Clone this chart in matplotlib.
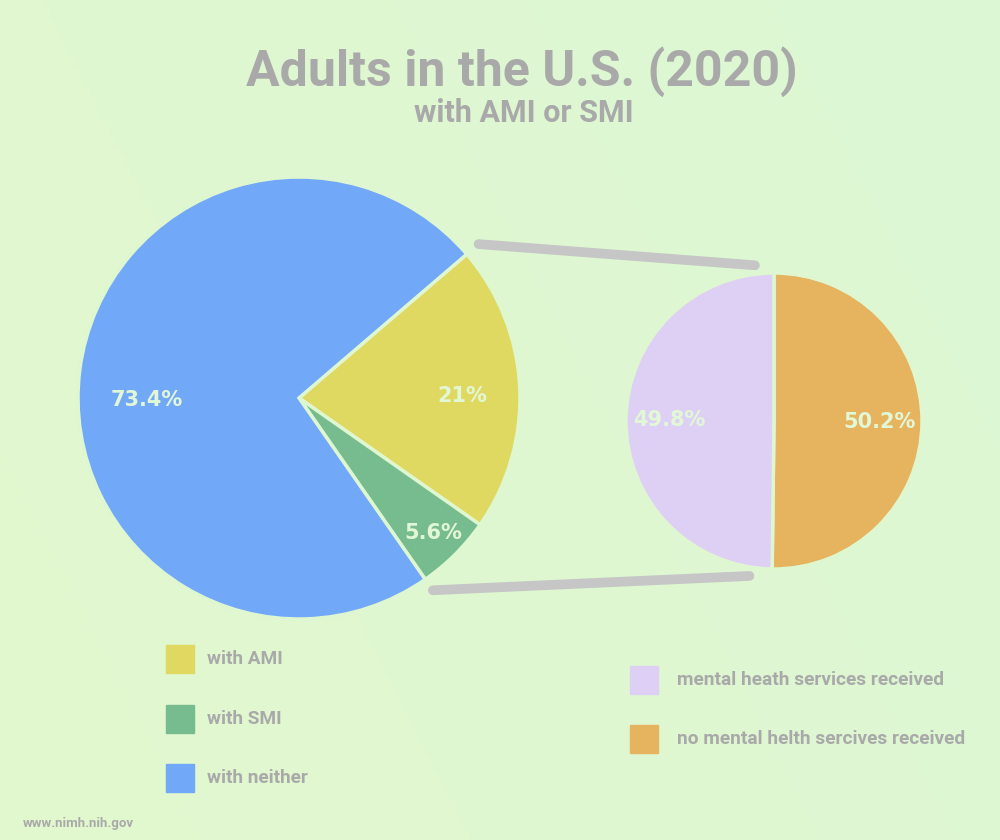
import numpy as np
import matplotlib
matplotlib.use("Agg")
import matplotlib.pyplot as plt
from matplotlib.patches import Rectangle

# Data
main_labels = ["with AMI", "with SMI", "with neither"]
main_values = [21, 5.6, 73.4]
main_colors = ["#dfd962", "#77bc8e", "#71a8f8"]

sub_labels = ["no mental helth sercives received", "mental heath services received"]
sub_values = [50.2, 49.8]
sub_colors = ["#e6b35e", "#ddd0f4"]

bg = "#dff7d0"
grey = "#a9a9a9"
label_col = "#e2f7d6"

W, H = 1000, 840
fig = plt.figure(figsize=(10, 8.4), dpi=100)
fig.patch.set_facecolor(bg)

# soft background wash
bgax = fig.add_axes([0, 0, 1, 1])
gx = np.linspace(0, 1, 200)
gy = np.linspace(0, 1, 200)
GX, GY = np.meshgrid(gx, gy)
c1 = np.array([0.886, 0.969, 0.808])
c2 = np.array([0.863, 0.969, 0.835])
t = (GX * 0.7 + GY * 0.3)[..., None]
bgax.imshow(c1 * (1 - t) + c2 * t, extent=[0, 1, 0, 1], aspect="auto", origin="lower")
bgax.axis("off")

ax = fig.add_axes([0, 0, 1, 1])
ax.set_facecolor("none")

# main pie (pixel coords, y up)
c_main = (299, H - 398)
r_main = 221
start_main = 40.6
wedges, _ = ax.pie(main_values, colors=main_colors, startangle=start_main,
                   counterclock=False, radius=r_main, center=c_main,
                   wedgeprops=dict(edgecolor=bg, linewidth=2.5))

label_dist = [0.74, 0.86, 0.69]
label_shift = [-2, 0, 8]
for w, v, d, s in zip(wedges, main_values, label_dist, label_shift):
    ang = np.deg2rad((w.theta1 + w.theta2) / 2 + s)
    txt = f"{v:g}%"
    ax.text(c_main[0] + d * r_main * np.cos(ang), c_main[1] + d * r_main * np.sin(ang),
            txt, ha="center", va="center", color=label_col, fontsize=15,
            fontweight="bold", family="DejaVu Sans")

# sub pie
c_sub = (774, H - 421)
r_sub = 148
sw, _ = ax.pie(sub_values, colors=sub_colors, startangle=90, counterclock=False,
               radius=r_sub, center=c_sub,
               wedgeprops=dict(edgecolor=bg, linewidth=2.5))
for w, v in zip(sw, sub_values):
    ang = np.deg2rad((w.theta1 + w.theta2) / 2)
    ax.text(c_sub[0] + 0.71 * r_sub * np.cos(ang), c_sub[1] + 0.71 * r_sub * np.sin(ang),
            f"{v:g}%", ha="center", va="center", color=label_col, fontsize=15,
            fontweight="bold", family="DejaVu Sans")

# connector lines
top_a = np.deg2rad(wedges[0].theta2)
bot_a = np.deg2rad(wedges[1].theta1)
for a1, a2, f1 in [(top_a, np.deg2rad(97), 1.07), (bot_a, np.deg2rad(261), 1.06)]:
    x1 = c_main[0] + f1 * r_main * np.cos(a1)
    y1 = c_main[1] + f1 * r_main * np.sin(a1)
    x2 = c_sub[0] + 1.06 * r_sub * np.cos(a2)
    y2 = c_sub[1] + 1.06 * r_sub * np.sin(a2)
    ax.plot([x1, x2], [y1, y2], color="#c6c6c6", lw=7, solid_capstyle="round", zorder=0)

ax.set_xlim(0, W)
ax.set_ylim(0, H)
ax.set_aspect("auto")
ax.axis("off")

# titles
fig.text(0.522, 1 - 72 / H, "Adults in the U.S. (2020)", ha="center", va="center",
         fontsize=36, fontweight="bold", color=grey, family="Roboto")
fig.text(0.524, 1 - 113 / H, "with AMI or SMI", ha="center", va="center",
         fontsize=22, fontweight="bold", color=grey, family="Roboto")

# legends
leg_left_y = [659, 719, 778]
for lab, col, yy in zip(main_labels, main_colors, leg_left_y):
    ax.add_patch(Rectangle((166, H - yy - 14), 28, 28, color=col))
    ax.text(207, H - yy, lab, ha="left", va="center", fontsize=13.7,
            fontweight="bold", color=grey, family="Roboto")

leg_right_y = [680, 739]
for lab, col, yy in zip(sub_labels[::-1], sub_colors[::-1], leg_right_y):
    ax.add_patch(Rectangle((630, H - yy - 14), 28, 28, color=col))
    ax.text(677, H - yy, lab, ha="left", va="center", fontsize=13.8,
            fontweight="bold", color=grey, family="Roboto")

fig.text(23 / W, 1 - 823 / H, "www.nimh.nih.gov", ha="left", va="center",
         fontsize=9.5, fontweight="bold", color=grey, family="Roboto")

fig.savefig("out.png", dpi=100, facecolor=bg)
